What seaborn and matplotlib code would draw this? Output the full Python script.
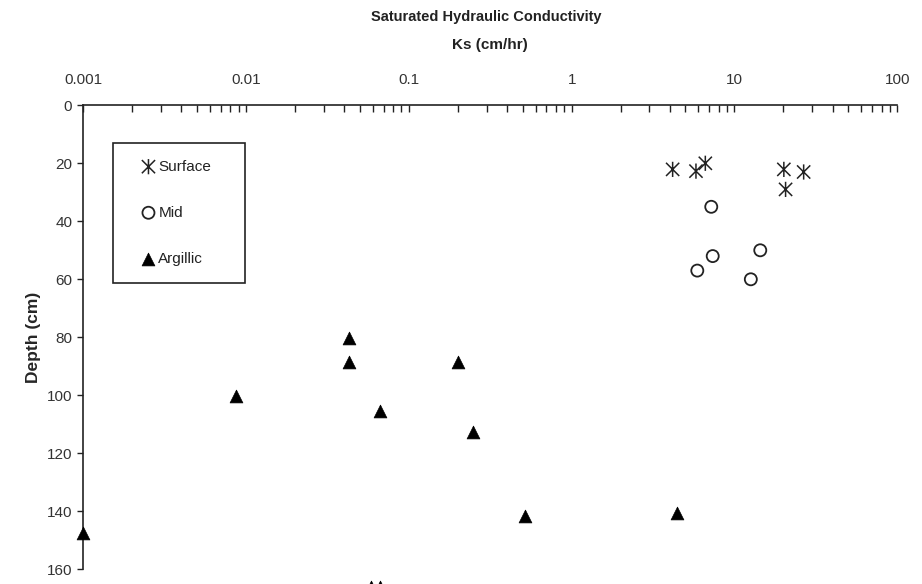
import matplotlib
matplotlib.use('Agg')
import matplotlib.pyplot as plt
from matplotlib.path import Path
from matplotlib.ticker import FuncFormatter, LogLocator, NullFormatter
import seaborn as sns
import pandas as pd

# Ks (cm/hr) and depth (cm)
surface_ks = [4.17, 5.80, 6.62, 20.1, 26.6, 20.6]
surface_depth = [22.1, 22.7, 20.0, 22.1, 23.0, 29.0]

mid_ks = [7.20, 7.35, 5.91, 14.4, 12.6]
mid_depth = [35.0, 52.0, 57.0, 50.0, 60.0]

argillic_ks = [0.043, 0.043, 0.20, 0.00863, 0.0664, 0.249, 0.517, 4.45, 0.001, 0.0585, 0.0667]
argillic_depth = [80.3, 88.4, 88.4, 100.2, 105.4, 112.6, 141.6, 140.5, 147.6, 166.0, 166.0]

x_ticks = [0.001, 0.01, 0.1, 1, 10, 100]
y_ticks = [0, 20, 40, 60, 80, 100, 120, 140, 160]

sns.set_style('white')
plt.rcParams['font.family'] = ['Liberation Sans Narrow', 'Liberation Sans', 'DejaVu Sans']
plt.rcParams['text.color'] = '#222222'

# Excel-style star marker: an X with a vertical bar through it
star = Path([(-1, -1), (1, 1), (-1, 1), (1, -1), (0, -1.15), (0, 1.15)],
            [Path.MOVETO, Path.LINETO, Path.MOVETO, Path.LINETO, Path.MOVETO, Path.LINETO])

surface = pd.DataFrame({'ks': surface_ks, 'depth': surface_depth})
mid = pd.DataFrame({'ks': mid_ks, 'depth': mid_depth})
argillic = pd.DataFrame({'ks': argillic_ks, 'depth': argillic_depth})

fig = plt.figure(figsize=(9.22, 5.84), dpi=100)
ax = fig.add_axes([0.0903, 0.0252, 0.8829, 0.7945])

sns.scatterplot(data=surface, x='ks', y='depth', marker=star, s=120, facecolor='none',
                edgecolor='#222222', linewidth=1.1, label='Surface', ax=ax, clip_on=False, zorder=3)
sns.scatterplot(data=mid, x='ks', y='depth', marker='o', s=75, facecolor='none',
                edgecolor='#222222', linewidth=1.3, label='Mid', ax=ax, clip_on=False, zorder=3)
sns.scatterplot(data=argillic, x='ks', y='depth', marker='^', s=85, color='black',
                edgecolor='black', linewidth=0.5, label='Argillic', ax=ax, clip_on=False, zorder=3)

ax.set_xscale('log')
ax.set_xlim(0.001, 100)
ax.set_ylim(160, 0)
ax.xaxis.tick_top()
ax.set_xticks(x_ticks)
ax.xaxis.set_major_formatter(FuncFormatter(lambda v, p: '{:g}'.format(v)))
ax.xaxis.set_minor_locator(LogLocator(base=10, subs=range(2, 10)))
ax.xaxis.set_minor_formatter(NullFormatter())
ax.set_yticks(y_ticks)
ax.tick_params(axis='x', which='both', direction='in', length=5, width=1, color='#222222',
               top=True, bottom=False, labelsize=11, pad=13, labelcolor='#333333')
ax.tick_params(axis='y', which='major', direction='out', length=4, width=1, color='#222222',
               left=True, labelsize=11, pad=4, labelcolor='#333333')

for side in ['right', 'bottom']:
    ax.spines[side].set_visible(False)
for side in ['top', 'left']:
    ax.spines[side].set_color('#222222')
    ax.spines[side].set_linewidth(1.2)

ax.set_xlabel('')
ax.set_ylabel('Depth (cm)', fontsize=12.5, fontweight='bold', labelpad=4)

fig.text(0.527, 0.971, 'Saturated Hydraulic Conductivity', ha='center', va='center',
         fontsize=10.5, fontweight='bold')
fig.text(0.531, 0.923, 'Ks (cm/hr)', ha='center', va='center', fontsize=11, fontweight='bold')

leg = ax.legend(loc='upper left', bbox_to_anchor=(0.036, 0.5, 0.163, 0.419), mode='expand',
                fancybox=False, edgecolor='#222222', framealpha=1, fontsize=11,
                labelspacing=2.1, handletextpad=-0.6, handlelength=2.5, borderpad=1.1,
                borderaxespad=0)
leg.get_frame().set_linewidth(1.2)

fig.savefig('out.png', dpi=100)
